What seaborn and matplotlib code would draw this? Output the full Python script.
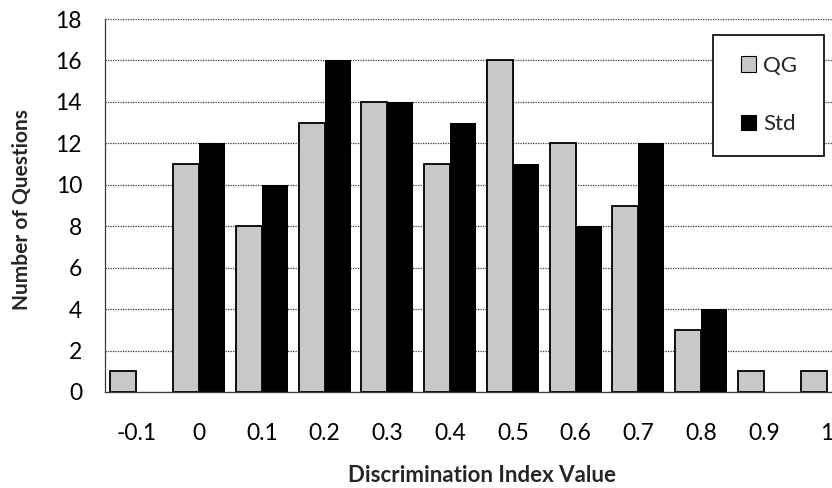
import matplotlib
matplotlib.use("Agg")
import matplotlib.pyplot as plt
from matplotlib.patches import Rectangle
import seaborn as sns
import pandas as pd

categories = ["-0.1", "0", "0.1", "0.2", "0.3", "0.4", "0.5", "0.6", "0.7", "0.8", "0.9", "1"]
qg_counts = [1, 11, 8, 13, 14, 11, 16, 12, 9, 3, 1, 1]
std_counts = [0, 12, 10, 16, 14, 13, 11, 8, 12, 4, 0, 0]
series_names = ["QG", "Std"]
y_ticks = [0, 2, 4, 6, 8, 10, 12, 14, 16, 18]

df = pd.DataFrame({
    "Discrimination Index Value": categories * 2,
    "Number of Questions": qg_counts + std_counts,
    "Series": [series_names[0]] * len(categories) + [series_names[1]] * len(categories),
})

sns.set_theme(style="white")
plt.rcParams["font.family"] = ["Lato", "DejaVu Sans"]

W, H = 832, 488
fig = plt.figure(figsize=(W / 100, H / 100), dpi=100)
ax = fig.add_axes([105 / W, 96 / H, 753 / W, 373 / H])

palette = {"QG": "#c8c8c8", "Std": "#000000"}
sns.barplot(
    data=df, x="Discrimination Index Value", y="Number of Questions",
    hue="Series", order=categories, hue_order=series_names,
    palette=palette, width=0.83, gap=0, ax=ax, legend=True,
    saturation=1,
)

# grey bars get a black outline, black bars none
for container, name in zip(ax.containers, series_names):
    for bar in container:
        if name == "QG":
            bar.set_edgecolor("black")
            bar.set_linewidth(1.3)
        else:
            bar.set_edgecolor("none")
            bar.set_linewidth(0)

ax.set_ylim(0, 18)
ax.set_yticks(y_ticks)
ax.set_xlim(-0.5, len(categories) - 0.5)
ax.yaxis.grid(True, linestyle=(0, (1, 1)), color="#3a3a3a", linewidth=0.9)
ax.set_axisbelow(True)

for side in ["top", "right"]:
    ax.spines[side].set_visible(False)
for side in ["left", "bottom"]:
    ax.spines[side].set_linestyle((0, (1, 1)))
    ax.spines[side].set_color("#3a3a3a")
    ax.spines[side].set_linewidth(0.9)

ax.tick_params(axis="y", labelsize=16.5, pad=16.5, length=0, colors="black")
ax.tick_params(axis="x", labelsize=16.5, pad=22, length=0, colors="black")

ax.set_xlabel("Discrimination Index Value", fontsize=16, fontweight="bold")
ax.set_ylabel("Number of Questions", fontsize=15, fontweight="bold")
ax.xaxis.set_label_coords(0.5, -(475 - 392) / 373)
ax.xaxis.label.set_va("center")
ax.yaxis.set_label_coords(-(105 - 22) / 753, 0.49)
ax.yaxis.label.set_va("center")

# legend entries without their own frame, boxed by a plain rectangle
leg = ax.legend(
    loc="center", bbox_to_anchor=(769 / W, 1 - 95 / H), bbox_transform=fig.transFigure,
    frameon=False, fontsize=16,
    handlelength=0.7, handleheight=0.7, handletextpad=0.3,
    labelspacing=1.75, borderpad=0, borderaxespad=0,
)
for handle in leg.legend_handles:
    handle.set_edgecolor("black")
    handle.set_linewidth(0.8)
leg.set_zorder(6)
ax.add_patch(Rectangle(
    (713 / W, 1 - 156 / H), 111 / W, 121 / H, transform=fig.transFigure,
    facecolor="white", edgecolor="black", linewidth=1.2, zorder=5, clip_on=False,
))

fig.savefig("out.png", dpi=100)
